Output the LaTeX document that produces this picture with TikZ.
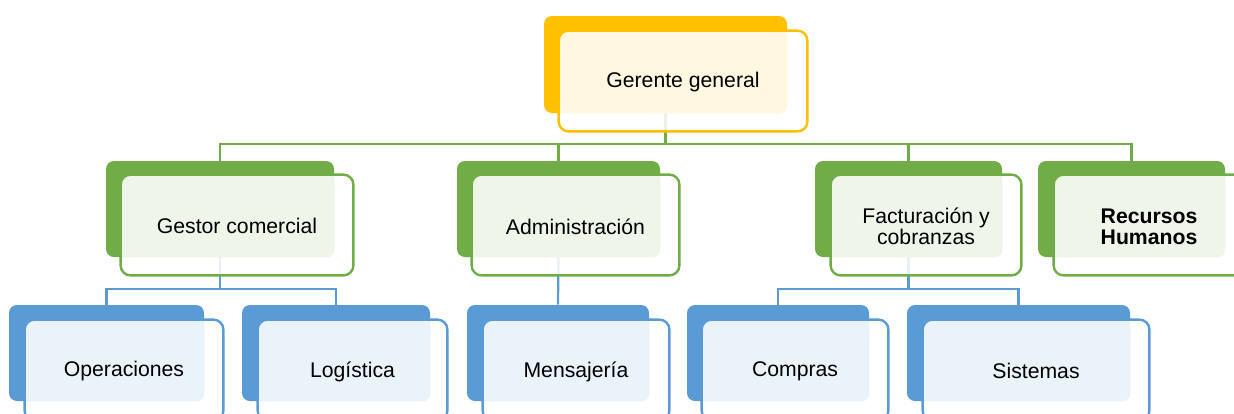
\documentclass[tikz,border=0pt]{standalone}
\usepackage{fontspec}
\setmainfont{Liberation Sans}
\usetikzlibrary{fit,backgrounds}
\definecolor{gold}{HTML}{FFC000}
\definecolor{leaf}{HTML}{70AD47}
\definecolor{sky}{HTML}{5B9BD5}
\tikzset{
	backbox/.style = {draw=none, fill=#1, rounded corners=4pt, inner sep=0pt},
	frontbox/.style = {fill=white, fill opacity=0.85, draw=none, rounded corners=5pt, inner sep=0pt},
	frontline/.style = {draw=#1, line width=1.2pt, rounded corners=5pt},
	boxtext/.style = {align=center, inner sep=0pt, text=black, yshift=-0.7pt, font=\fontsize{10.6}{10.5}\selectfont},
	link/.style = {draw=#1, line width=1.1pt}
}
\newcommand{\orgunit}[5]{%
	\node [backbox=#2, fit={#3}] (#1-back) {};
	\node [frontbox, fit={#4}] (#1) {};
	\fill [#2!12, rounded corners=4pt] (#1.north west) rectangle (#1-back.south east);
	\draw [frontline=#2] (#1.north west) rectangle (#1.south east);
	\node [boxtext] (#1-text) at (#1.center) {#5};
}

\begin{document}
\begin{tikzpicture}[x=0.5pt, y=-0.5pt]
\useasboundingbox (0,0) rectangle (1234,413);

\orgunit{gg}{gold}{(544,16) (787,113)}{(559,31) (807,131)}{Gerente general}

\orgunit{gc}{leaf}{(106,161) (334,257)}{(121,175) (353,275)}{Gestor comercial}
\orgunit{adm}{leaf}{(457,161) (660,257)}{(472,175) (679,275)}{Administración}
\orgunit{fac}{leaf}{(815,161) (1002,257)}{(831,175) (1021,275)}{Facturación y\\cobranzas}
\orgunit{rh}{leaf}{(1038,161) (1225,257)}{(1054,175) (1244,275)}{\textbf{Recursos}\\\textbf{Humanos}}

\orgunit{ope}{sky}{(9,305) (204,401)}{(25,320) (223,420)}{Operaciones}
\orgunit{log}{sky}{(242,305) (430,401)}{(258,320) (447,420)}{Logística}
\orgunit{men}{sky}{(467,305) (649,401)}{(483,320) (669,420)}{Mensajería}
\orgunit{com}{sky}{(687,305) (869,401)}{(702,320) (888,420)}{Compras}
\orgunit{sis}{sky}{(907,305) (1130,401)}{(923,320) (1149,420)}{Sistemas}

\coordinate (bus-top) at (0,144);
\coordinate (bus-low) at (0,289);

\begin{scope}[on background layer]
	\draw [link=leaf] (gg-back.south) -- (gg-back.south |- bus-top) -| (gc-back.north);
	\draw [link=leaf] (gg-back.south) -- (gg-back.south |- bus-top) -| (adm-back.north);
	\draw [link=leaf] (gg-back.south) -- (gg-back.south |- bus-top) -| (fac-back.north);
	\draw [link=leaf] (gg-back.south) -- (gg-back.south |- bus-top) -| (rh-back.north);
	\draw [link=sky] (gc-back.south) -- (gc-back.south |- bus-low) -| (ope-back.north);
	\draw [link=sky] (gc-back.south) -- (gc-back.south |- bus-low) -| (log-back.north);
	\draw [link=sky] (adm-back.south) -- (men-back.north);
	\draw [link=sky] (fac-back.south) -- (fac-back.south |- bus-low) -| (com-back.north);
	\draw [link=sky] (fac-back.south) -- (fac-back.south |- bus-low) -| (sis-back.north);
\end{scope}
\end{tikzpicture}
\end{document}
